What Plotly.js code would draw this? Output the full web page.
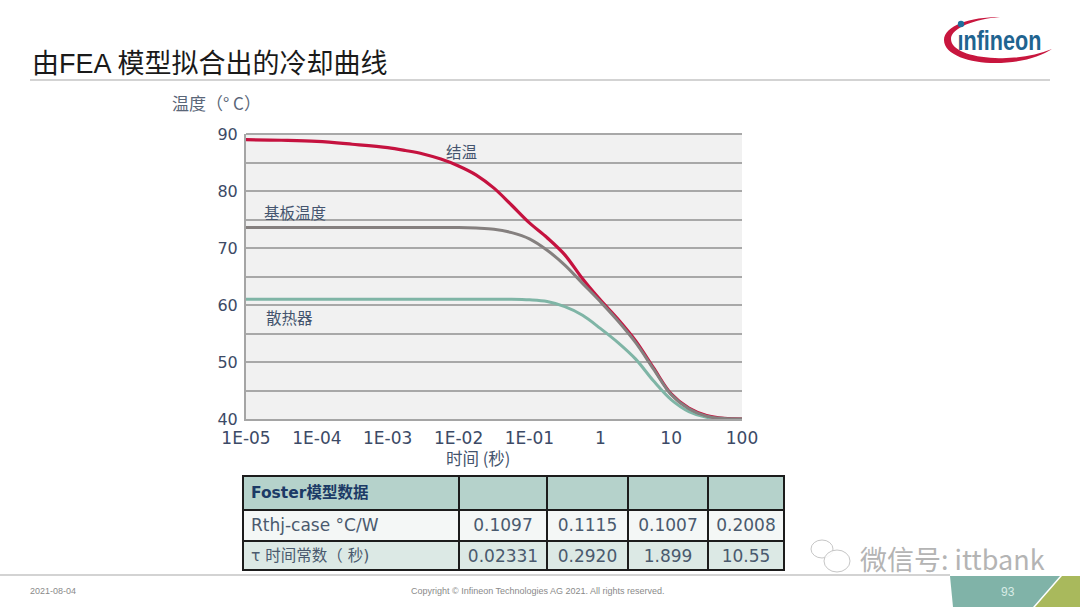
<!DOCTYPE html>
<html><head><meta charset="utf-8">
<script src="https://cdn.plot.ly/plotly-3.0.0.min.js"></script>
<style>html,body{margin:0;padding:0;background:#fff}#c{width:1080px;height:607px}</style>
</head><body><div id="c"></div>
<script>
const timeJunction = [0.00001,0.0000316,0.0001,0.000316,0.001,0.00178,0.00316,0.00562,0.01,0.0178,0.0316,0.0562,0.1,0.178,0.316,0.562,1,1.78,3.16,5.62,10,17.8,31.6,56.2,100];
const tempJunction = [89.0,88.9,88.7,88.2,87.6,87.1,86.5,85.6,84.4,82.8,80.5,77.5,74.4,71.8,68.8,64.6,60.9,57.5,53.7,49.0,44.4,41.9,40.6,40.1,40.0];
const timeBase = [0.00001,0.0001,0.001,0.01,0.0178,0.0316,0.0562,0.1,0.178,0.316,0.562,1,1.78,3.16,5.62,10,17.8,31.6,56.2,100];
const tempBase = [73.6,73.6,73.6,73.6,73.5,73.3,72.7,71.6,69.6,67.0,63.8,60.6,57.2,53.4,48.8,44.3,41.8,40.5,40.1,40.0];
const timeSink = [0.00001,0.0001,0.001,0.01,0.0562,0.1,0.178,0.316,0.562,1,1.78,3.16,5.62,10,17.8,31.6,56.2,100];
const tempSink = [61.0,61.0,61.0,61.0,61.0,60.9,60.6,59.7,58.2,55.9,53.4,50.5,46.7,43.4,41.3,40.3,40.05,40.0];
const xTickVals = [0.00001,0.0001,0.001,0.01,0.1,1,10,100];
const xTickText = ['1E-05','1E-04','1E-03','1E-02','1E-01','1','10','100'];
const yTickVals = [40,45,50,55,60,65,70,75,80,85,90];
const yTickText = ['40','','50','','60','','70','','80','','90'];
const tableHeader = ['<b>Foster模型数据</b>','','','',''];
const rowLabels = ['Rthj-case °C/W','τ 时间常数（ 秒)'];
const col1 = ['0.1097','0.02331'];
const col2 = ['0.1115','0.2920'];
const col3 = ['0.1007','1.899'];
const col4 = ['0.2008','10.55'];

const W=1080,H=607;
const fx=x=>x/W, fy=y=>1-y/H;
const cjk='"Noto Sans CJK SC","Noto Sans",sans-serif';
const ink='#44546e';
function note(text,x,y,size,color,anchor,family,extra){
  return Object.assign({text:text,x:fx(x),y:fy(y),xref:'paper',yref:'paper',showarrow:false,
    xanchor:anchor||'left',yanchor:'middle',font:{size:size,color:color,family:family||cjk}},extra||{});
}
function ptsPath(d){
  return d.replace(/(-?\d+(?:\.\d+)?) (-?\d+(?:\.\d+)?)/g,(m,a,b)=>fx(+a).toFixed(5)+' '+fy(+b).toFixed(5));
}
function shapePath(d,fill){
  return {type:'path',xref:'paper',yref:'paper',path:ptsPath(d),fillcolor:fill,line:{color:fill,width:0},layer:'above'};
}
function hline(x0,x1,y,color,w){
  return {type:'line',xref:'paper',yref:'paper',x0:fx(x0),x1:fx(x1),y0:fy(y),y1:fy(y),line:{color:color,width:w}};
}
function circle(cx,cy,rx,ry,fill,lineColor,lw){
  return {type:'circle',xref:'paper',yref:'paper',x0:fx(cx-rx),x1:fx(cx+rx),y0:fy(cy-ry),y1:fy(cy+ry),fillcolor:fill,line:{color:lineColor||fill,width:lw||0},layer:'above'};
}
const curve=(x,y,c,w)=>({type:'scatter',mode:'lines',x:x,y:y,line:{color:c,width:w,shape:'spline',smoothing:1},hoverinfo:'skip',showlegend:false});
const traces=[
  curve(timeSink,tempSink,'#7fb5a6',3),
  curve(timeJunction,tempJunction,'#c5123f',3.2),
  curve(timeBase,tempBase,'#85807f',3),
  {type:'table',domain:{x:[fx(243),fx(784)],y:[fy(572),fy(476)]},
   columnwidth:[216,88,81,80,76],
   header:{values:tableHeader,height:32,align:'left',fill:{color:'#b5d2cb'},line:{color:'#1c1c1c',width:2},
     font:{size:15.5,color:'#1c3a66',family:'"DejaVu Sans",'+cjk}},
   cells:{values:[rowLabels,col1,col2,col3,col4],height:31,align:['left','center','center','center','center'],
     fill:{color:[['#f4f7f6','#dce9e5']]},line:{color:'#1c1c1c',width:2},
     font:{size:[[17,15.5],17,17,17,17],color:'#4a5a6e',family:'"DejaVu Sans",'+cjk}}}
];
const layout={
  width:W,height:H,margin:{l:0,r:0,t:0,b:0},paper_bgcolor:'#fff',plot_bgcolor:'#f1f1f1',showlegend:false,
  xaxis:{type:'log',domain:[fx(246),fx(742)],range:[-5,2],tickvals:xTickVals,ticktext:xTickText,ticks:'outside',ticklen:3,tickcolor:'rgba(0,0,0,0)',showgrid:false,zeroline:false,
    showline:true,linecolor:'#a5a5a5',linewidth:2,tickfont:{size:17,color:'#3c4a66',family:'"DejaVu Sans"'},tickangle:0,automargin:false,anchor:'y'},
  yaxis:{domain:[fy(419),fy(134)],range:[40,90],tickvals:yTickVals,ticktext:yTickText,ticks:'outside',ticklen:3,tickcolor:'rgba(0,0,0,0)',showgrid:true,gridcolor:'#a8a8a8',gridwidth:2,zeroline:false,
    showline:true,linecolor:'#a5a5a5',linewidth:2,tickfont:{size:16,color:'#3c4a66',family:'"DejaVu Sans"'},automargin:false,anchor:'x'},
  shapes:[
    hline(30,1050,80,'#a8a8a8',1.2),
    hline(0,950,575,'#c4c4c4',1.5),
    hline(246,742,134,'#a8a8a8',2),
    hline(243,784,570,'#1c1c1c',2),
    shapePath('M 950 576 L 1060 576 L 1033 607 L 953 607 Z','#80b3a8'),
    shapePath('M 1062 576 L 1080 576 L 1080 607 L 1035 607 Z','#a9b95c'),
    shapePath('M 1000 17 C 970 17 944 26 944 40 C 944 55 970 63 995 63 C 1020 63 1040 57 1052 49 C 1035 56 1015 59 995 58 C 970 57 951 50 951 39 C 951 28 975 19 1000 17 Z','#c8163e'),
    circle(961,24,3.2,3.2,'#1f6f9c'),
    circle(822,549,11,9,'rgba(255,255,255,0.85)','#c6c6c6',1),
    circle(837,561,13,11,'rgba(255,255,255,0.85)','#c6c6c6',1)
  ],
  annotations:[
    note('由FEA 模型拟合出的冷却曲线',30,64,27,'#1a1a1a','left','"Liberation Sans",'+cjk),
    note('温度（° C）',170,102,17,'#5a6678'),
    note('时间 (秒)',478,458,16.5,ink,'center'),
    note('结温',461,151,15.5,ink,'center'),
    note('基板温度',295,212,15.5,ink,'center'),
    note('散热器',289,317,15.5,ink,'center'),
    note('ınfineon',943,41,28,'#1f6490','left','"Liberation Sans"'),
    note('微信号: ittbank',858,558,27,'#b4b4b4','left'),
    note('2021-08-04',28,591,9,'#8a8a8a','left','"Liberation Sans"'),
    note('Copyright © Infineon Technologies AG 2021. All rights reserved.',538,591,9,'#8a8a8a','center','"Liberation Sans"'),
    note('93',1008,592,12,'#d8ece6','center','"Liberation Sans"')
  ]
};
layout.annotations[6].font.weight='bold';
Plotly.newPlot('c',traces,layout,{displayModeBar:false,staticPlot:true}).then(()=>{
  document.querySelectorAll('.annotation-text').forEach(t=>{
    if(t.textContent==='ınfineon'){
      t.setAttribute('textLength','84');
      t.setAttribute('lengthAdjust','spacingAndGlyphs');
    }
  });
});
</script></body></html>
